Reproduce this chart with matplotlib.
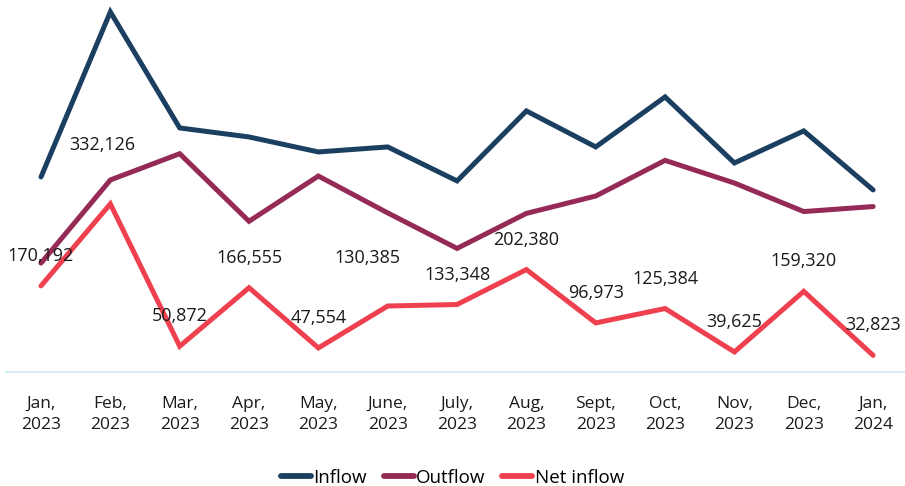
import numpy as np
from matplotlib import pyplot as plt

plt.rcParams['font.family'] = ['Open Sans', 'DejaVu Sans']

# 月份标签
months = ['Jan,\n2023', 'Feb,\n2023', 'Mar,\n2023', 'Apr,\n2023', 'May,\n2023', 'June,\n2023',
          'July,\n2023', 'Aug,\n2023', 'Sept,\n2023', 'Oct,\n2023', 'Nov,\n2023', 'Dec,\n2023',
          'Jan,\n2024']

# 从图上估出来的流入 / 流出
inflow = [385400, 711500, 482200, 464400, 434800, 444700, 377500,
          515800, 444700, 543500, 413000, 476300, 359700]
outflow = [215200, 379400, 431300, 297800, 387200, 314300, 244200,
           313400, 347700, 418100, 373400, 317000, 326900]
# 净流入（图上有标注）
net_inflow = [170192, 332126, 50872, 166555, 47554, 130385, 133348,
              202380, 96973, 125384, 39625, 159320, 32823]

c_in = '#1B3F61'
c_out = '#942A55'
c_net = '#EF4050'

fig = plt.figure(figsize=(9.05, 4.86), dpi=100)
ax = fig.add_axes([6 / 905, 114 / 486, 899 / 905, 372 / 486])

x = np.arange(len(months))
ax.plot(x, inflow, color=c_in, lw=3.6, solid_capstyle='round', solid_joinstyle='miter', label='Inflow')
ax.plot(x, outflow, color=c_out, lw=3.6, solid_capstyle='round', solid_joinstyle='miter', label='Outflow')
ax.plot(x, net_inflow, color=c_net, lw=3.6, solid_capstyle='round', solid_joinstyle='miter', label='Net inflow')

# 数据标签，偏移单位是像素
offsets = {1: (-8, 59), 5: (-20, 48)}
for i, v in enumerate(net_inflow):
    dx, dy = offsets.get(i, (0, 30))
    ax.annotate('{:,}'.format(v), (x[i], v), xytext=(dx * 0.72, dy * 0.72),
                textcoords='offset points', ha='center', va='center',
                fontsize=13, color='#1a1a1a')

ax.set_xlim(-0.505, 12.46)
ax.set_ylim(0, 735000)
ax.set_xticks(x)
ax.set_xticklabels(months, fontsize=12.5, color='#1a1a1a', linespacing=1.45)
ax.tick_params(axis='x', length=0, pad=17)
ax.set_yticks([])
for s in ['top', 'right', 'left']:
    ax.spines[s].set_visible(False)
ax.spines['bottom'].set_color('#D5EBF7')
ax.spines['bottom'].set_linewidth(1.5)

leg = fig.legend(loc='center', bbox_to_anchor=(0.5, 1 - 478 / 486), ncol=3, frameon=False,
                 fontsize=13.5, handlelength=1.6, handletextpad=0.12, columnspacing=0.9)
for h in leg.legend_handles:
    h.set_linewidth(4.2)

fig.savefig('out.png', dpi=100)
